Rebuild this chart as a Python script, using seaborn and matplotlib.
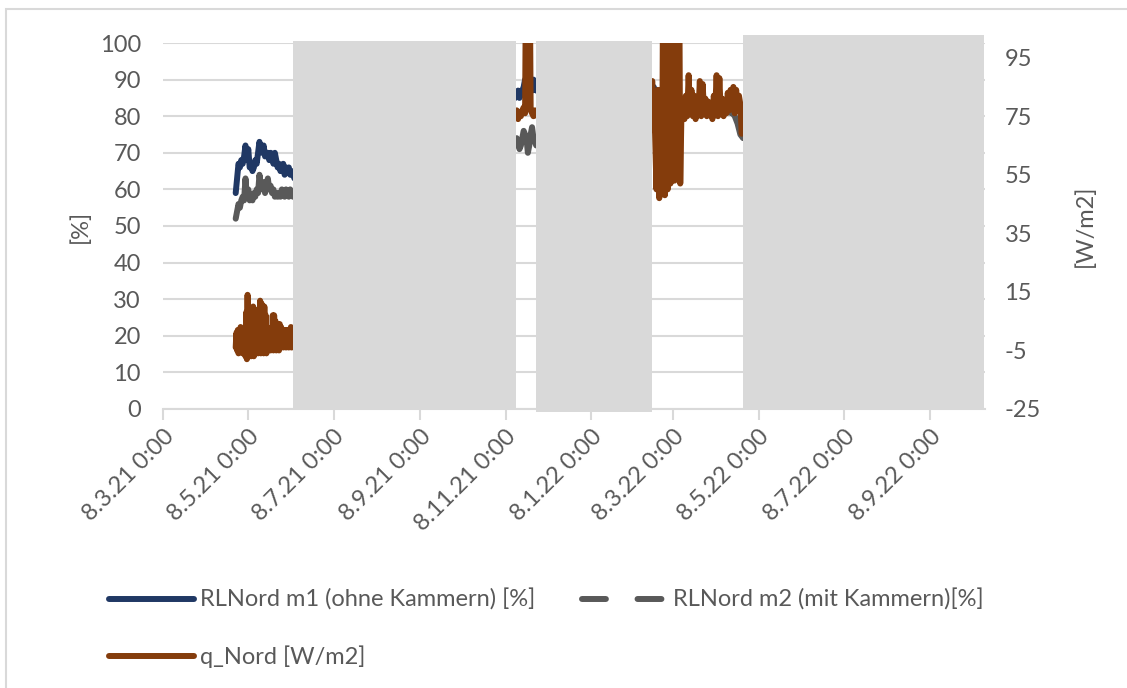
import pandas as pd
import matplotlib
matplotlib.use("Agg")
import matplotlib.pyplot as plt
import matplotlib.dates as mdates
from matplotlib.ticker import FuncFormatter
from matplotlib.lines import Line2D
from matplotlib.patches import Rectangle
import seaborn as sns

# start of the three visible measuring periods
seg_a_start = "2021-04-29"
seg_b_start = "2021-11-14"
seg_c_start = "2022-02-20"

# RLNord m1 (ohne Kammern) [%]  (a, b daily / c every 2 days)
m1_a = [59, 63, 67, 66, 68, 67, 69, 72, 68, 71, 66, 67, 65, 66, 68, 67, 70,
        73, 71, 70, 72, 69, 70, 70, 68, 70, 69, 67, 70, 68, 66, 67, 65, 66,
        67, 64, 66, 65, 66, 64, 65, 64, 63, 64]
m1_b = [86, 85, 86, 87, 85, 86, 87, 88, 90, 89, 88, 91, 89, 87, 90, 88, 87, 89, 88]
m1_c = [87, 88, 86, 86, 85, 88, 90, 89, 84, 83, 83, 83, 83, 83, 83, 83, 83,
        83, 83, 83, 83, 83, 83, 83, 83, 83, 83, 83, 83, 83, 83, 83, 83, 82]

# RLNord m2 (mit Kammern)[%]
m2_a = [52, 54, 56, 55, 57, 58, 57, 63, 58, 60, 57, 58, 57, 59, 58, 60, 59,
        64, 61, 60, 62, 59, 61, 63, 60, 61, 59, 60, 58, 59, 58, 59, 58, 60,
        59, 58, 60, 59, 58, 60, 59, 58, 59, 58]
m2_b = [73, 72, 74, 73, 71, 72, 74, 76, 75, 74, 70, 72, 75, 77, 74, 73, 72, 74, 73]
m2_c = [79, 80, 78, 79, 81, 80, 79, 81, 81, 82, 81, 81, 82, 81, 81, 82, 81,
        81, 82, 81, 81, 82, 81, 81, 82, 81, 81, 82, 81, 81, 80, 78, 75, 74]

# q_Nord [W/m2]  (a every 12 h / b, c daily)
q_a = [-4, 1, -5, 2, -6, 0, -4, 3, -5, 1, -6, 2, -5, 1,
       -7, 8, -8, 14, -7, 6, -6, 2,
       -7, 3, -6, 10, -7, 9, -6, 4, -5, 2,
       -6, 3, -5, 12, -6, 11, -5, 9, -6, 10, -5, 7, -6, 3,
       -5, 2, -4, 1, -5, 2,
       -4, 7, -5, 7, -4, 5, -5, 2,
       -4, 4, -5, 4, -4, 3, -3, 1,
       -4, 2, -3, 1, -4, 2,
       -3, 2, -4, 2, -3, 3, -4, 2, -3, 2, -4, 1, -3, 2]
q_b = [76, 75, 77, 74, 76, 75, 77, 78, 76, 150, 78, 150, 77, 76, 75, 77, 76, 75, 76]
q_c = [85, 87, 75, 69,
       50, 84, 47, 82, 49, 150,
       48, 150, 50,
       150, 52, 150, 150, 53,
       150, 55, 150, 52, 80,
       78, 74, 82, 75, 89, 76, 84, 75,
       82, 74, 80, 76, 87, 75, 86, 77, 81, 75,
       80, 76, 79, 74, 82, 77, 89, 75, 88, 76,
       81, 75, 80, 76, 83, 77, 84, 78, 85, 76,
       84, 77, 82, 79, 69, 78, 76]

x_start = "2021-03-08"
x_end = "2022-10-17"
labels = ["RLNord m1 (ohne Kammern) [%]", "RLNord m2 (mit Kammern)[%]", "q_Nord [W/m2]"]

c_blue = "#203864"
c_gray = "#595959"
c_orange = "#843c0c"
c_light = "#d9d9d9"
c_text = "#595959"


def frame(start, freq, values, seg):
    return pd.DataFrame({"t": pd.date_range(start, periods=len(values), freq=freq),
                         "v": values, "seg": seg})


m1 = pd.concat([frame(seg_a_start, "D", m1_a, "a"), frame(seg_b_start, "D", m1_b, "b"),
                frame(seg_c_start, "2D", m1_c, "c")])
m2 = pd.concat([frame(seg_a_start, "D", m2_a, "a"), frame(seg_b_start, "D", m2_b, "b"),
                frame(seg_c_start, "2D", m2_c, "c")])
q = pd.concat([frame(seg_a_start, "12h", q_a, "a"), frame(seg_b_start, "D", q_b, "b"),
               frame(seg_c_start, "D", q_c, "c")])

sns.set_theme(style="white")
plt.rcParams["font.family"] = ["Lato", "DejaVu Sans"]
plt.rcParams["axes.unicode_minus"] = False
fs = 17

W, H = 1127, 688
fig = plt.figure(figsize=(W / 100, H / 100), dpi=100)
ax = fig.add_axes([163 / W, 1 - 409 / H, 822 / W, 366 / H])

line_kw = dict(lw=4.3, estimator=None, units="seg", legend=False,
               solid_joinstyle="round", solid_capstyle="round")
sns.lineplot(data=m1, x="t", y="v", color=c_blue, ax=ax, **line_kw)
sns.lineplot(data=m2, x="t", y="v", color=c_gray, ax=ax, **line_kw)

ax.set_ylim(0, 100)
ax.set_yticks(range(0, 101, 10))
ax.set_xlim(pd.Timestamp(x_start), pd.Timestamp(x_end))
ax.xaxis.set_major_locator(mdates.MonthLocator(bymonth=[1, 3, 5, 7, 9, 11], bymonthday=8))


def fmt_date(x, pos):
    d = mdates.num2date(x)
    return f"{d.day}.{d.month}.{d:%y} 0:00"


ax.xaxis.set_major_formatter(FuncFormatter(fmt_date))
ax.grid(axis="y", color=c_light, lw=1.5)
ax.grid(axis="x", visible=False)
ax.set_axisbelow(True)
for s in ["left", "top", "right"]:
    ax.spines[s].set_visible(False)
ax.spines["bottom"].set_color(c_light)
ax.spines["bottom"].set_linewidth(1.5)
ax.tick_params(axis="x", bottom=True, color=c_light, width=1.5, length=8,
               labelcolor=c_text, labelsize=fs, pad=4)
ax.tick_params(axis="y", length=0, labelcolor=c_text, labelsize=fs, pad=16)
plt.setp(ax.get_xticklabels(), rotation=45, ha="right", rotation_mode="anchor")
ax.set_xlabel("")
ax.set_ylabel("[%]", fontsize=fs, color=c_text)
ax.yaxis.set_label_coords((91 - 163) / 822, 0.5)

ax2 = ax.twinx()
sns.lineplot(data=q, x="t", y="v", color=c_orange, ax=ax2, **line_kw)
ax2.set_ylim(-25, 100)
ax2.set_yticks(range(-25, 96, 20))
for s in ax2.spines.values():
    s.set_visible(False)
ax2.grid(False)
ax2.tick_params(axis="y", length=0, labelcolor=c_text, labelsize=fs, pad=14)
ax2.set_xlabel("")
ax2.set_ylabel("[W/m2]", fontsize=fs, color=c_text)
ax2.yaxis.set_label_coords((1074 - 163) / 822, 0.5)

# legend below the plot, row-wise: m1, m2 / q
h_m1 = Line2D([], [], color=c_blue, lw=4.3, solid_capstyle="round")
h_m2 = Line2D([], [], color=c_gray, lw=4.3, dashes=(4, 5.3), dash_capstyle="round")
h_q = Line2D([], [], color=c_orange, lw=4.3, solid_capstyle="round")
fig.legend([h_m1, h_q, h_m2], [labels[0], labels[2], labels[1]], ncol=2,
           loc="upper left", bbox_to_anchor=(109 / W, 1 - 589 / H),
           frameon=False, fontsize=fs, labelcolor=c_text, handlelength=3.6,
           handletextpad=0.25, columnspacing=2.0, labelspacing=1.45,
           borderpad=0, borderaxespad=0)

# outer chart frame
fig.add_artist(Rectangle((6 / W, -0.1), 2, 1.1 - 9 / H, transform=fig.transFigure,
                         fill=False, ec=c_light, lw=1.5))

# grey cover boxes over the chart
for x0, y0, x1, y1 in [(293, 41, 516, 408), (536, 41, 652, 412), (743, 35, 984, 408)]:
    fig.add_artist(Rectangle((x0 / W, 1 - y1 / H), (x1 - x0) / W, (y1 - y0) / H,
                             transform=fig.transFigure, fc=c_light, ec="none", zorder=10))

fig.savefig("out.png", dpi=100)
